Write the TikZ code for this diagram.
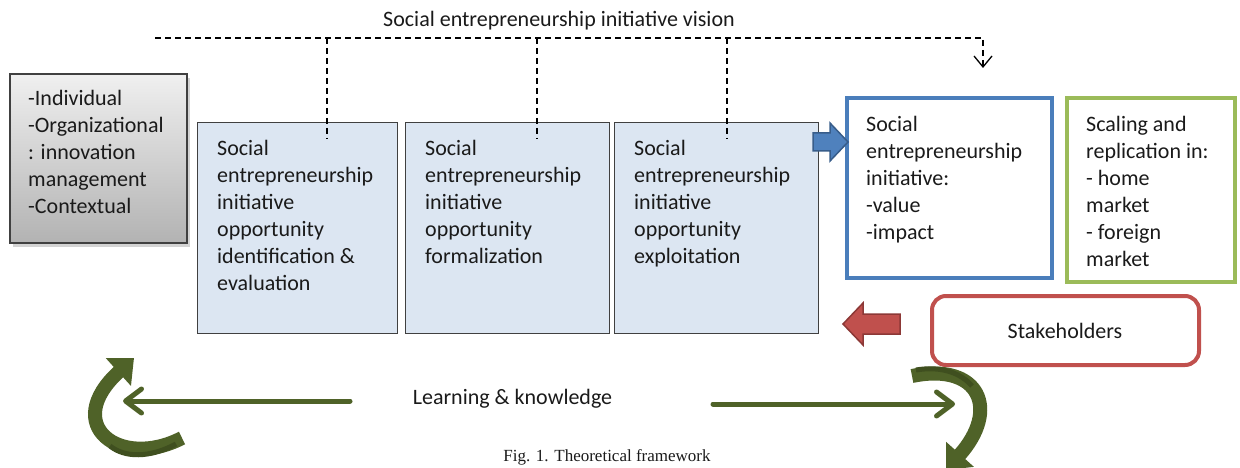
\documentclass[tikz,border=0pt]{standalone}
\usepackage{fontspec}
\setmainfont{Carlito}
\newfontfamily\capfont{Liberation Serif}
\usetikzlibrary{arrows.meta,shadows}
\definecolor{boxfill}{HTML}{DCE6F2}
\definecolor{boxline}{HTML}{404040}
\definecolor{valblue}{HTML}{4A7EBB}
\definecolor{arrblue}{HTML}{4F81BD}
\definecolor{arrbluedk}{HTML}{385D8A}
\definecolor{scalgreen}{HTML}{9BBB59}
\definecolor{stakered}{HTML}{C0504D}
\definecolor{stakereddk}{HTML}{8C3836}
\definecolor{lkgreen}{HTML}{4F6228}
\definecolor{lkgreendk}{HTML}{3F4F1F}
\definecolor{txtc}{HTML}{1A1A1A}
\tikzset{
  every node/.style={font=\fontsize{22}{27}\selectfont, text=txtc},
  txt/.style={inner sep=0pt, align=left, anchor=north west},
  greybox/.style={draw=boxline, line width=1.5pt, inner sep=0pt,
    top color=black!6, bottom color=black!30,
    drop shadow={shadow xshift=3pt, shadow yshift=-4pt, opacity=0.35}},
  stagebox/.style={draw=boxline, line width=1pt, fill=boxfill, inner sep=0pt},
  valuebox/.style={draw=valblue, line width=4pt, inner sep=0pt},
  scalebox/.style={draw=scalgreen, line width=4pt, inner sep=0pt},
  stakebox/.style={draw=stakered, line width=4pt, rounded corners=14pt, inner sep=0pt},
  vision/.style={draw=black, line width=1.3pt, dash pattern=on 6pt off 4pt},
  lkarrow/.style={draw=lkgreen, line width=5pt, line cap=round,
    -{Straight Barb[length=16pt,width=24pt,line cap=round,line join=round]}},
  cyclearrow/.style={draw=lkgreen, line width=14pt,
    -{Triangle[width=36pt,length=21pt]}},
}
\begin{document}
\begin{tikzpicture}[x=1pt,y=-1pt]
\useasboundingbox (0,0) rectangle (1240,468);

% title
\node[inner sep=0pt, anchor=base] (vision) at (559,27) {Social entrepreneurship initiative vision};

% boxes
\node[greybox, minimum width=177pt, minimum height=169pt] (factors) at (98.5,158.5) {};
\node[txt] (factorsT) at (28,90) {-Individual\\-Organizational\\: innovation\\management\\-Contextual};

\node[stagebox, minimum width=200pt, minimum height=210pt] (b1) at (297,228) {};
\node[stagebox, minimum width=204pt, minimum height=210pt] (b2) at (507,228) {};
\node[stagebox, minimum width=204pt, minimum height=210pt] (b3) at (716,228) {};
\node[txt] (b1T) at (217,140) {Social\\entrepreneurship\\initiative\\opportunity\\identification \&\\evaluation};
\node[txt] (b2T) at (425,140) {Social\\entrepreneurship\\initiative\\opportunity\\formalization};
\node[txt] (b3T) at (634,140) {Social\\entrepreneurship\\initiative\\opportunity\\exploitation};

\node[valuebox, minimum width=205pt, minimum height=180pt] (value) at (949.5,188) {};
\node[txt] (valueT) at (866,116) {Social\\entrepreneurship\\initiative:\\-value\\-impact};

\node[scalebox, minimum width=168pt, minimum height=184pt] (scale) at (1151,190) {};
\node[txt] (scaleT) at (1086,116) {Scaling and\\replication in:\\- home\\market\\- foreign\\market};

\node[stakebox, minimum width=267pt, minimum height=69pt] (stake) at (1065.5,330.5) {};
\node[inner sep=0pt] (stakeT) at (1065,330.5) {Stakeholders};

\node[inner sep=0pt, anchor=base] (learn) at (512.5,404) {Learning \& knowledge};

\node[inner sep=0pt, anchor=base, font=\capfont\fontsize{17}{21}\selectfont] (cap) at (607,461) {Fig. 1. Theoretical framework};

% vision dashed line
\coordinate (v0) at (155,38);
\coordinate (v1) at (983,38);
\coordinate (vend) at (983,68);
\draw[vision, -{Straight Barb[length=11pt,width=18pt,line join=miter]}] (v0) -- (v1) -- (vend);
\coordinate (d1) at (327,38);
\coordinate (d2) at (537,38);
\coordinate (d3) at (727,38);
\draw[vision] (d1) -- ([yshift=-17pt]d1 |- b1.north);
\draw[vision] (d2) -- ([yshift=-17pt]d2 |- b2.north);
\draw[vision] (d3) -- ([yshift=-17pt]d3 |- b3.north);

% blue block arrow b3 -> value
\filldraw[fill=arrblue, draw=arrbluedk, line width=1.5pt, line join=miter]
  (813,133) -- (830,133) -- (830,123) -- (848,142) -- (830,161) -- (830,151) -- (813,151) -- cycle;

% red block arrow stakeholders -> b3
\filldraw[fill=stakered, draw=stakereddk, line width=1.5pt, line join=miter]
  (900,314) -- (863,314) -- (863,303) -- (843,324) -- (863,345) -- (863,334) -- (900,334) -- cycle;

% learning arrows
\coordinate (l0) at (350,401);
\coordinate (l1) at (123,401);
\coordinate (r0) at (713,404);
\coordinate (r1) at (955,404);
\draw[lkarrow] (l0) -- (l1);
\draw[lkarrow] (r0) -- (r1);

% curved cycle arrows
\coordinate (c0) at (182,438);
\coordinate (c1) at (134,358);
\draw[cyclearrow] (c0) .. controls (120,470) and (60,425) .. (c1);
\draw[lkgreendk, line width=5pt] (176,444) .. controls (150,458) and (125,458) .. (110,446);

\coordinate (e0) at (912,376);
\coordinate (e1) at (946,470);
\draw[cyclearrow] (e0) .. controls (980,362) and (1000,410) .. (e1);
\draw[lkgreendk, line width=5pt] (916,370) .. controls (940,366) and (960,372) .. (972,386);
\end{tikzpicture}
\end{document}
